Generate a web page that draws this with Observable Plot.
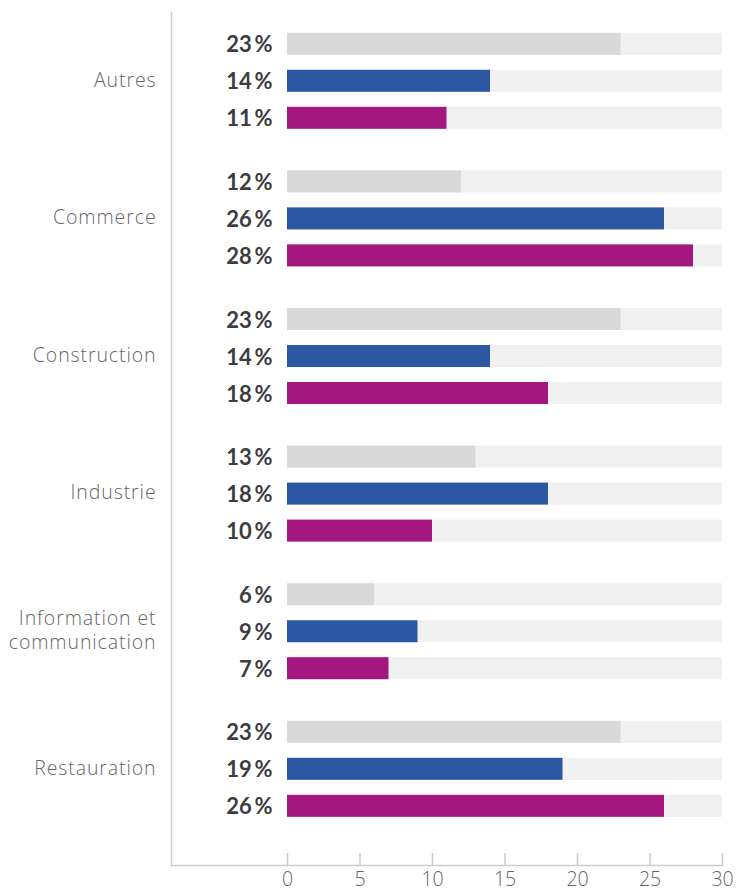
<!DOCTYPE html>
<html>
<head>
<meta charset="utf-8">
<script src="https://cdn.jsdelivr.net/npm/d3@7"></script>
<script src="https://cdn.jsdelivr.net/npm/@observablehq/plot@0.6"></script>
<style>
  html, body { margin: 0; padding: 0; background: #fff; }
  #chart { width: 739px; height: 892px; }
  #chart svg g[aria-label="y-axis tick label"] text { letter-spacing: 0.9px; }
</style>
</head>
<body>
<div id="chart"></div>
<script>
const categories = ["Autres", "Commerce", "Construction", "Industrie", "Information et communication", "Restauration"];
const categoryLabels = ["Autres", "Commerce", "Construction", "Industrie", "Information et\ncommunication", "Restauration"];
const seriesNames = ["Série 1", "Série 2", "Série 3"];
const seriesColors = ["#d9d9d9", "#2b57a3", "#a3177e"];
const serie1 = [23, 12, 23, 13, 6, 23];
const serie2 = [14, 26, 14, 18, 9, 19];
const serie3 = [11, 28, 18, 10, 7, 26];
const xTicks = [0, 5, 10, 15, 20, 25, 30];
const xDomain = [-8, 30];
const maxValue = 30;

const seriesValues = [serie1, serie2, serie3];
const offsets = [-37, 0, 37];

const marks = [];
seriesValues.forEach((vals, j) => {
  const rows = categories.map((c, i) => ({category: c, value: vals[i], series: seriesNames[j]}));
  marks.push(Plot.barX(rows, {x1: 0, x2: maxValue, y: "category", dy: offsets[j], insetTop: 57.8, insetBottom: 57.8, fill: "#f0f0f0"}));
  marks.push(Plot.barX(rows, {x1: 0, x2: "value", y: "category", dy: offsets[j], insetTop: 57.8, insetBottom: 57.8, fill: seriesColors[j]}));
  marks.push(Plot.text(rows, {x: 0, y: "category", dy: offsets[j] + 1, dx: -15, text: d => d.value + "\u2009%", textAnchor: "end", fontWeight: "bold", fontSize: 22, fill: "#3d3d3d", fontFamily: "Lato, sans-serif"}));
});

const chart = Plot.plot({
  width: 739,
  height: 892,
  marginTop: 12,
  marginBottom: 27,
  marginLeft: 171,
  marginRight: 17,
  style: {fontFamily: "'Open Sans', 'Noto Sans', sans-serif", background: "#fff", overflow: "visible"},
  x: {domain: xDomain},
  y: {domain: categories, padding: 0, paddingOuter: 0.0995, align: 0, round: false},
  marks: [
    ...marks,
    Plot.frame({anchor: "left", stroke: "#cccccc", strokeWidth: 1.5}),
    Plot.frame({anchor: "bottom", stroke: "#cccccc", strokeWidth: 1.5}),
    Plot.axisX({ticks: xTicks, tickSize: 12, dy: -12, stroke: "#cccccc", strokeWidth: 1.5, tickFormat: () => "", label: null}),
    Plot.axisX({ticks: xTicks, tickSize: 0, tickPadding: 7, fontSize: 19.5, fill: "#666", fontWeight: 300, label: null}),
    Plot.axisY({tickSize: 0, tickPadding: 15, dy: -2.5, fontSize: 19.5, fill: "#666", fontWeight: 300, label: null, lineHeight: 1.25, tickFormat: (d) => categoryLabels[categories.indexOf(d)]})
  ]
});
document.getElementById("chart").appendChild(chart);
</script>
</body>
</html>
